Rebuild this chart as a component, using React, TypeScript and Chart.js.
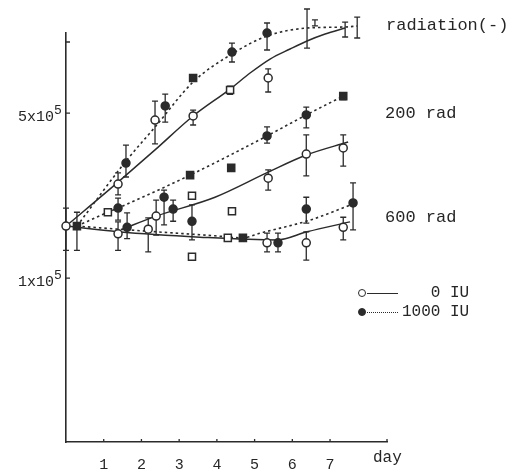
import React, { useEffect, useRef } from "react";
import { Chart, registerables } from "chart.js";

Chart.register(...registerables);

// ---- axis ticks ----
const xTickLabels = ["", "1", "2", "3", "4", "5", "6", "7", ""];
const yTickValues = [100000, 500000, 1000000];
const yTickMantissa = ["1x10", "5x10", ""];
const yTickExponent = ["5", "5", ""];

// ---- measured points (day, cells, error low, error high) ----
const ctrlOpen = [
  { x: 0, y: 166000, lo: 131000, hi: 198000 },
  { x: 1.38, y: 250000, lo: 225000, hi: 279000 },
  { x: 2.36, y: 467000, lo: 370000, hi: 562000 },
  { x: 3.37, y: 486000, lo: 445000, hi: 515000 },
  { x: 5.36, y: 704000, lo: 614000, hi: 769000 },
  { x: 6.39, y: 1158000, lo: 943000, hi: 1380000 },
  { x: 7.4, y: 1158000, lo: 1050000, hi: 1215000 },
];
const ctrlFilled = [
  { x: 1.59, y: 307000, lo: 268000, hi: 366000 },
  { x: 2.63, y: 536000, lo: 458000, hi: 602000 },
  { x: 4.4, y: 907000, lo: 823000, hi: 990000 },
  { x: 5.33, y: 1092000, lo: 925000, hi: 1204000 },
  { x: 7.72, y: 1169000, lo: 1040000, hi: 1276000 },
];
const r200Open = [
  { x: 2.39, y: 183000, lo: 152000, hi: 214000 },
  { x: 5.36, y: 265000, lo: 236000, hi: 287000 },
  { x: 6.37, y: 335000, lo: 271000, hi: 404000 },
  { x: 7.35, y: 356000, lo: 298000, hi: 404000 },
];
const r200Filled = [
  { x: 1.38, y: 198000, lo: 176000, hi: 218000 },
  { x: 2.6, y: 220000, lo: 168000, hi: 236000 },
  { x: 2.84, y: 196000, lo: 174000, hi: 214000 },
  { x: 5.33, y: 400000, lo: 373000, hi: 437000 },
  { x: 6.37, y: 491000, lo: 433000, hi: 530000 },
];
const r600Open = [
  { x: 1.38, y: 154000, lo: 131000, hi: 173000 },
  { x: 2.18, y: 161000, lo: 129000, hi: 180000 },
  { x: 5.33, y: 141000, lo: 129000, hi: 155000 },
  { x: 6.37, y: 141000, lo: 119000, hi: 157000 },
  { x: 7.35, y: 164000, lo: 145000, hi: 181000 },
];
const r600Filled = [
  { x: 1.62, y: 164000, lo: 147000, hi: 189000 },
  { x: 3.34, y: 174000, lo: 145000, hi: 204000 },
  { x: 5.62, y: 141000, lo: 129000, hi: 155000 },
  { x: 6.37, y: 196000, lo: 171000, hi: 220000 },
  { x: 7.61, y: 208000, lo: 160000, hi: 253000 },
];
const openSquares = [
  { x: 1.11, y: 190000 },
  { x: 3.34, y: 223000 },
  { x: 3.34, y: 123000 },
  { x: 4.29, y: 148000 },
  { x: 4.35, y: 626000, lo: 600000, hi: 650000 },
  { x: 4.4, y: 192000 },
];
const filledSquares = [
  { x: 0.29, y: 166000, lo: 131000, hi: 190000 },
  { x: 3.29, y: 273000 },
  { x: 3.37, y: 704000 },
  { x: 4.38, y: 293000 },
  { x: 4.69, y: 148000 },
  { x: 6.6, y: 1204000, lo: 1170000, hi: 1240000 },
  { x: 7.35, y: 590000, lo: 570000, hi: 610000 },
];

// ---- fitted curves ----
const ctrlSolidCurve = [
  { x: 0, y: 166000 }, { x: 1.38, y: 255000 }, { x: 2.36, y: 349000 },
  { x: 3.37, y: 486000 }, { x: 4.35, y: 632000 }, { x: 4.88, y: 739000 },
  { x: 5.41, y: 847000 }, { x: 5.94, y: 934000 }, { x: 6.39, y: 1010000 },
  { x: 6.87, y: 1081000 }, { x: 7.4, y: 1146000 },
];
const ctrlDotCurve = [
  { x: 0.29, y: 166000 }, { x: 1.59, y: 313000 }, { x: 2.36, y: 436000 },
  { x: 3.37, y: 677000 }, { x: 4.4, y: 890000 }, { x: 5.33, y: 1060000 },
  { x: 6.39, y: 1146000 }, { x: 7.4, y: 1158000 }, { x: 7.72, y: 1169000 },
];
const r200DotCurve = [
  { x: 0.29, y: 166000 }, { x: 1.11, y: 190000 }, { x: 1.38, y: 198000 },
  { x: 3.29, y: 273000 }, { x: 5.33, y: 400000 }, { x: 6.37, y: 491000 },
  { x: 7.35, y: 590000 },
];
const r200SolidCurve = [
  { x: 1.49, y: 161000 }, { x: 2.39, y: 183000 }, { x: 3.95, y: 220000 },
  { x: 5.36, y: 281000 }, { x: 6.37, y: 332000 }, { x: 7.48, y: 377000 },
];
const r600SolidCurve = [
  { x: 0, y: 166000 }, { x: 1.38, y: 157000 }, { x: 3.55, y: 149000 },
  { x: 5.6, y: 145000 }, { x: 6.39, y: 157000 }, { x: 7.53, y: 173000 },
];
const r600DashCurve = [
  { x: 0.29, y: 166000 }, { x: 1.64, y: 160000 }, { x: 3.95, y: 151000 },
  { x: 4.69, y: 148000 }, { x: 5.15, y: 155000 }, { x: 6.47, y: 176000 },
  { x: 7.61, y: 206000 },
];

const INK = "#2b2b2b";
const TEXT = "#262626";
const FONT = "'Liberation Mono', 'DejaVu Sans Mono', monospace";

function markers(data: any[], shape: "circle" | "rect", filled: boolean) {
  return {
    type: "scatter" as const,
    data,
    pointStyle: shape,
    pointRadius: shape === "circle" ? 4 : 5,
    backgroundColor: filled ? INK : "#ffffff",
    borderColor: INK,
    borderWidth: 1.5,
    showLine: false,
    clip: false as any,
    order: 0,
    errorBars: true,
  };
}

function curve(data: any[], dashed: boolean) {
  return {
    type: "line" as const,
    data,
    borderColor: INK,
    borderWidth: dashed ? 1.6 : 1.5,
    borderDash: dashed ? [2.5, 3] : [],
    pointRadius: 0,
    cubicInterpolationMode: "monotone" as const,
    fill: false,
    clip: false as any,
    order: 5,
  };
}

const errorBarPlugin = {
  id: "errorBars",
  beforeDatasetsDraw(chart: any) {
    const ctx = chart.ctx;
    const xs = chart.scales.x;
    const ys = chart.scales.y;
    ctx.save();
    ctx.strokeStyle = INK;
    ctx.lineWidth = 1.3;
    chart.data.datasets.forEach((ds: any) => {
      if (!ds.errorBars) return;
      ds.data.forEach((p: any) => {
        if (p.lo === undefined) return;
        const x = xs.getPixelForValue(p.x);
        const y1 = ys.getPixelForValue(p.lo);
        const y2 = ys.getPixelForValue(p.hi);
        ctx.beginPath();
        ctx.moveTo(x, y1);
        ctx.lineTo(x, y2);
        ctx.moveTo(x - 3, y1);
        ctx.lineTo(x + 3, y1);
        ctx.moveTo(x - 3, y2);
        ctx.lineTo(x + 3, y2);
        ctx.stroke();
      });
    });
    ctx.restore();
  },
};

// inward tick marks and y labels with raised exponent
const axisDecorPlugin = {
  id: "axisDecor",
  afterDraw(chart: any) {
    const ctx = chart.ctx;
    const xs = chart.scales.x;
    const ys = chart.scales.y;
    const area = chart.chartArea;
    ctx.save();
    ctx.strokeStyle = INK;
    ctx.lineWidth = 1.3;
    ctx.beginPath();
    ys.ticks.forEach((t: any) => {
      const y = ys.getPixelForValue(t.value);
      ctx.moveTo(area.left, y);
      ctx.lineTo(area.left + 4, y);
    });
    xs.ticks.forEach((t: any) => {
      if (t.value === 0) return;
      const x = xs.getPixelForValue(t.value);
      ctx.moveTo(x, area.bottom);
      ctx.lineTo(x, area.bottom - 3);
    });
    ctx.stroke();

    ctx.fillStyle = TEXT;
    ctx.textBaseline = "alphabetic";
    yTickValues.forEach((v, i) => {
      if (!yTickMantissa[i]) return;
      const y = ys.getPixelForValue(v);
      ctx.font = `15px ${FONT}`;
      ctx.textAlign = "right";
      const right = area.left - 12;
      ctx.fillText(yTickMantissa[i], right, y + 8);
      ctx.font = `13px ${FONT}`;
      ctx.textAlign = "left";
      ctx.fillText(yTickExponent[i], right, y + 1);
    });
    ctx.restore();
  },
};

const textStyle: React.CSSProperties = {
  position: "absolute",
  fontFamily: FONT,
  color: TEXT,
  whiteSpace: "pre",
  lineHeight: "1",
};

export default function App() {
  const ref = useRef<HTMLCanvasElement | null>(null);

  useEffect(() => {
    if (!ref.current) return;
    const chart = new Chart(ref.current, {
      type: "scatter",
      data: {
        datasets: [
          markers(ctrlOpen, "circle", false),
          markers(ctrlFilled, "circle", true),
          markers(r200Open, "circle", false),
          markers(r200Filled, "circle", true),
          markers(r600Open, "circle", false),
          markers(r600Filled, "circle", true),
          markers(openSquares, "rect", false),
          markers(filledSquares, "rect", true),
          curve(ctrlSolidCurve, false),
          curve(ctrlDotCurve, true),
          curve(r200SolidCurve, false),
          curve(r200DotCurve, true),
          curve(r600SolidCurve, false),
          curve(r600DashCurve, true),
        ] as any,
      },
      options: {
        animation: false,
        responsive: false,
        events: [],
        layout: { padding: { left: 0, top: 33, right: 125, bottom: 0 } },
        plugins: { legend: { display: false }, tooltip: { enabled: false } },
        scales: {
          x: {
            type: "linear",
            min: 0,
            max: 8.51,
            grid: { display: false },
            border: { display: true, color: INK, width: 1.6 },
            afterFit(scale: any) {
              scale.height = 28;
            },
            ticks: {
              stepSize: 1,
              padding: 6,
              color: TEXT,
              font: { family: FONT, size: 15 },
              autoSkip: false,
              maxRotation: 0,
              callback: (v: any) => xTickLabels[Math.round(Number(v))] ?? "",
            },
          },
          y: {
            type: "logarithmic",
            min: 20200,
            max: 1092000,
            grid: { display: false },
            border: { display: true, color: INK, width: 1.6 },
            afterFit(scale: any) {
              scale.width = 66;
            },
            afterBuildTicks(scale: any) {
              scale.ticks = yTickValues.map((v) => ({ value: v }));
            },
            ticks: { display: false },
          },
        },
      } as any,
      plugins: [errorBarPlugin, axisDecorPlugin],
    });
    return () => chart.destroy();
  }, []);

  const dot = (filled: boolean): React.CSSProperties => ({
    position: "absolute",
    width: 6,
    height: 6,
    borderRadius: "50%",
    border: `1.4px solid ${INK}`,
    background: filled ? INK : "#fff",
  });

  return (
    <div
      style={{
        position: "absolute",
        left: 0,
        top: 0,
        width: 512,
        height: 470,
        background: "#fff",
      }}
    >
      <canvas ref={ref} width={512} height={470} style={{ display: "block" }} />
      <div style={{ ...textStyle, left: 386, top: 17, fontSize: 17 }}>radiation(-)</div>
      <div style={{ ...textStyle, left: 385, top: 105, fontSize: 17 }}>200 rad</div>
      <div style={{ ...textStyle, left: 385, top: 209, fontSize: 17 }}>600 rad</div>
      <div style={{ ...textStyle, left: 373, top: 450, fontSize: 16 }}>day</div>

      {/* legend */}
      <div style={{ ...dot(false), left: 358, top: 289 }} />
      <div
        style={{
          position: "absolute",
          left: 367,
          top: 293,
          width: 31,
          borderTop: `1.5px solid ${INK}`,
        }}
      />
      <div style={{ ...textStyle, left: 402, top: 285, fontSize: 16 }}>{"   0 IU"}</div>
      <div style={{ ...dot(true), left: 358, top: 308 }} />
      <div
        style={{
          position: "absolute",
          left: 367,
          top: 312,
          width: 31,
          borderTop: `1.5px dotted ${INK}`,
        }}
      />
      <div style={{ ...textStyle, left: 402, top: 304, fontSize: 16 }}>1000 IU</div>
    </div>
  );
}
